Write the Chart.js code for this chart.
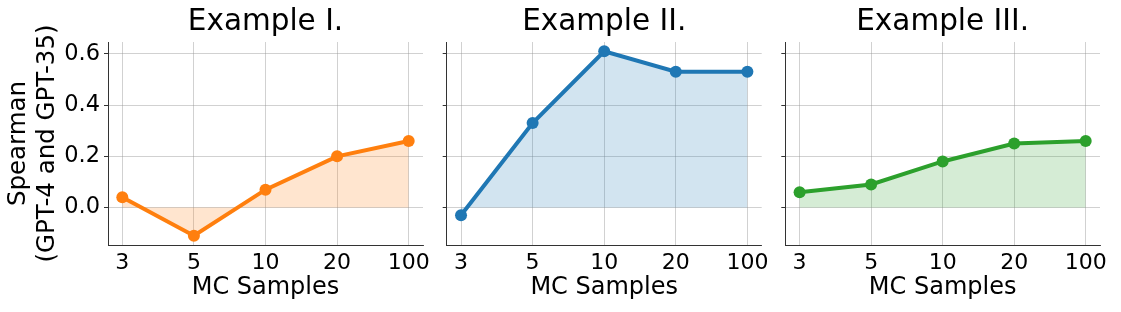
<!DOCTYPE html>
<html><head><meta charset="utf-8">
<script src="https://cdn.jsdelivr.net/npm/chart.js@4"></script>
<style>
html,body{margin:0;padding:0;background:#fff;}
#wrap{position:relative;width:1121px;height:312px;overflow:hidden;background:#fff;}
canvas{position:absolute;top:0;}
</style></head><body>
<div id="wrap">
<canvas id="c1" width="440" height="312" style="left:0px"></canvas>
<canvas id="c2" width="350" height="312" style="left:426px"></canvas>
<canvas id="c3" width="356" height="312" style="left:765px"></canvas>
</div>
<script>
const categories = ['3', '5', '10', '20', '100'];
const titles = ['Example I.', 'Example II.', 'Example III.'];
const seriesI = [0.04, -0.11, 0.07, 0.20, 0.26];
const seriesII = [-0.03, 0.33, 0.61, 0.53, 0.53];
const seriesIII = [0.06, 0.09, 0.18, 0.25, 0.26];
const yTicks = [0.0, 0.2, 0.4, 0.6];
const yMin = -0.146, yMax = 0.646;
const xLabel = 'MC Samples';
const yLabel = ['Spearman', '(GPT-4 and GPT-35)'];

const FONT = "'DejaVu Sans', sans-serif";
const panels = [
  {id: 'c1', title: titles[0], data: seriesI, rgb: '255,127,14', yWidth: 108, padRight: 17, showY: true},
  {id: 'c2', title: titles[1], data: seriesII, rgb: '31,119,180', yWidth: 20.7, padRight: 14.3, showY: false},
  {id: 'c3', title: titles[2], data: seriesIII, rgb: '44,160,44', yWidth: 20.3, padRight: 21, showY: false}
];

const gridStyle = {
  color: 'rgba(150,150,150,0.55)',
  lineWidth: 0.8,
  borderDash: [1, 2],
  tickColor: '#333',
  tickWidth: 1,
  tickBorderDash: [],
};

panels.forEach(p => {
  new Chart(document.getElementById(p.id), {
    type: 'line',
    data: {
      datasets: [{
        data: p.data.map((v, i) => ({x: i, y: v})),
        borderColor: 'rgb(' + p.rgb + ')',
        backgroundColor: 'rgba(' + p.rgb + ',0.2)',
        pointBackgroundColor: 'rgb(' + p.rgb + ')',
        pointBorderWidth: 0,
        pointRadius: 6,
        borderWidth: 4,
        fill: 'origin',
        tension: 0
      }]
    },
    options: {
      responsive: false,
      animation: false,
      devicePixelRatio: 1,
      layout: {padding: {left: 0, right: p.padRight, top: 0, bottom: 0}},
      plugins: {
        legend: {display: false},
        tooltip: {enabled: false},
        title: {display: false}
      },
      scales: {
        top: {
          type: 'linear',
          position: 'top',
          min: -0.2, max: 4.2,
          afterBuildTicks: s => { s.ticks = []; },
          afterFit: s => { s.height = 42; },
          ticks: {display: false},
          grid: {display: false, drawTicks: false},
          border: {display: false},
          title: {
            display: true, text: p.title, color: '#000',
            font: {family: FONT, size: 29.5, lineHeight: 1.2},
            padding: {top: 5, bottom: 0}
          }
        },
        x: {
          type: 'linear',
          position: 'bottom',
          min: -0.2, max: 4.2,
          afterBuildTicks: s => { s.ticks = categories.map((c, i) => ({value: i})); },
          afterFit: s => { s.height = 67; },
          ticks: {
            callback: v => categories[v],
            color: '#000',
            font: {family: FONT, size: 22},
            padding: 5,
            maxRotation: 0,
            autoSkip: false
          },
          grid: Object.assign({drawTicks: false}, gridStyle),
          border: {display: true, color: '#333', width: 1},
          title: {
            display: true, text: xLabel, color: '#000',
            font: {family: FONT, size: 24, lineHeight: 1.2},
            padding: {top: 0, bottom: 10}
          }
        },
        y: {
          type: 'linear',
          min: yMin, max: yMax,
          afterBuildTicks: s => { s.ticks = yTicks.map(v => ({value: v})); },
          afterFit: s => { s.width = p.yWidth; },
          ticks: {
            display: p.showY,
            callback: v => v.toFixed(1),
            color: '#000',
            font: {family: FONT, size: 22.5},
            padding: 4
          },
          grid: Object.assign({drawTicks: true, tickLength: 4}, gridStyle),
          border: {display: true, color: '#333', width: 1},
          title: {
            display: p.showY, text: yLabel, color: '#000',
            font: {family: FONT, size: 24.5, lineHeight: 1.15},
            padding: {top: 5, bottom: 0}
          }
        }
      }
    }
  });
});
</script>
</body></html>
